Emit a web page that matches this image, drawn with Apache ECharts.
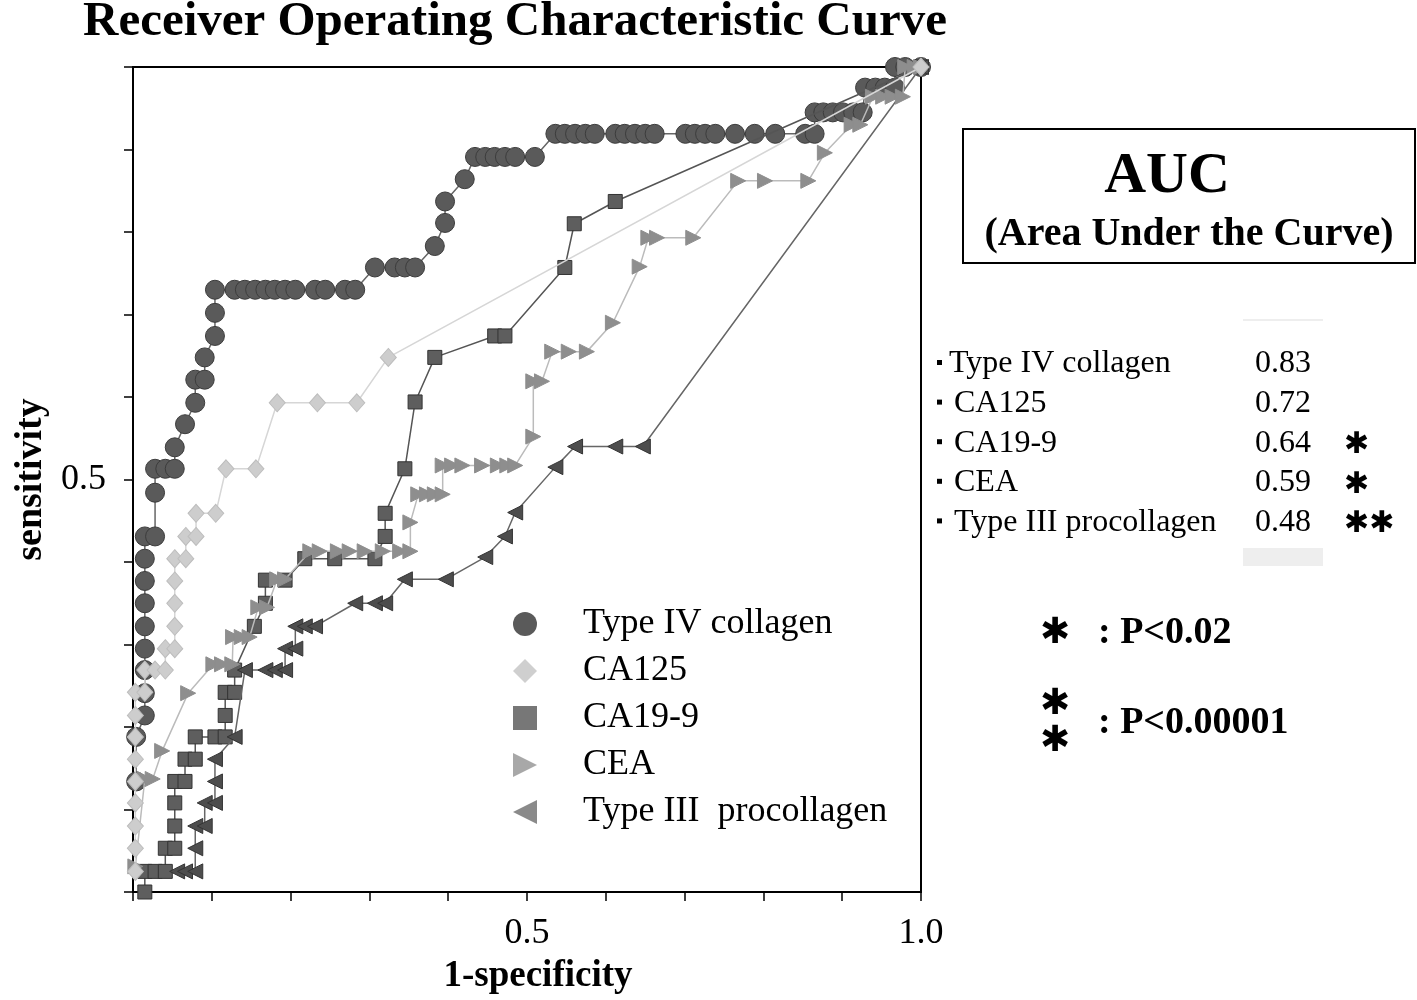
<!DOCTYPE html>
<html>
<head>
<meta charset="utf-8">
<script src="https://cdn.jsdelivr.net/npm/echarts@6/dist/echarts.min.js"></script>
<style>
html,body{margin:0;padding:0;background:#fff;}
#chart{width:1417px;height:1000px;}
</style>
</head>
<body>
<div id="chart"></div>
<script>
// ---------- DATA ----------
const seriesNames = ['Type IV collagen', 'CA125', 'CA19-9', 'CEA', 'Type III  procollagen'];

const typeIV = [[0.004,0.134],[0.004,0.188],[0.015,0.214],[0.015,0.241],[0.015,0.269],[0.015,0.295],[0.015,0.322],[0.015,0.350],[0.015,0.377],[0.015,0.404],[0.015,0.431],[0.028,0.431],[0.028,0.484],[0.028,0.513],[0.041,0.513],[0.053,0.513],[0.053,0.539],[0.066,0.567],[0.079,0.593],[0.079,0.621],[0.091,0.621],[0.091,0.648],[0.104,0.674],[0.104,0.702],[0.104,0.730],[0.129,0.730],[0.142,0.730],[0.155,0.730],[0.168,0.730],[0.180,0.730],[0.193,0.730],[0.206,0.730],[0.231,0.730],[0.244,0.730],[0.269,0.730],[0.282,0.730],[0.307,0.757],[0.332,0.757],[0.345,0.757],[0.358,0.757],[0.383,0.783],[0.396,0.811],[0.396,0.837],[0.421,0.864],[0.434,0.891],[0.447,0.891],[0.459,0.891],[0.472,0.891],[0.485,0.891],[0.510,0.891],[0.536,0.919],[0.548,0.919],[0.561,0.919],[0.574,0.919],[0.586,0.919],[0.612,0.919],[0.624,0.919],[0.637,0.919],[0.650,0.919],[0.662,0.919],[0.701,0.919],[0.713,0.919],[0.726,0.919],[0.739,0.919],[0.764,0.919],[0.789,0.919],[0.815,0.919],[0.853,0.919],[0.865,0.919],[0.865,0.945],[0.876,0.945],[0.888,0.945],[0.901,0.945],[0.914,0.945],[0.926,0.945],[0.929,0.975],[0.942,0.975],[0.954,0.975],[0.967,0.975],[0.967,1.0],[0.980,1.0],[1.0,1.0]];

const ca125 = [[0.003,0.025],[0.003,0.053],[0.003,0.080],[0.003,0.108],[0.003,0.134],[0.003,0.161],[0.003,0.188],[0.003,0.214],[0.003,0.242],[0.015,0.242],[0.015,0.269],[0.028,0.269],[0.041,0.269],[0.041,0.295],[0.053,0.295],[0.053,0.322],[0.053,0.350],[0.053,0.377],[0.053,0.404],[0.067,0.404],[0.067,0.431],[0.080,0.431],[0.080,0.459],[0.105,0.459],[0.118,0.513],[0.156,0.513],[0.183,0.593],[0.234,0.593],[0.284,0.593],[0.324,0.648],[1.0,1.0]];

const ca199 = [[0.015,0.0],[0.015,0.025],[0.028,0.025],[0.041,0.025],[0.041,0.053],[0.053,0.053],[0.053,0.080],[0.053,0.108],[0.053,0.134],[0.066,0.134],[0.066,0.161],[0.079,0.161],[0.079,0.188],[0.104,0.188],[0.117,0.188],[0.117,0.214],[0.117,0.242],[0.129,0.242],[0.129,0.269],[0.154,0.322],[0.168,0.350],[0.168,0.378],[0.193,0.378],[0.218,0.404],[0.256,0.404],[0.307,0.404],[0.320,0.431],[0.320,0.459],[0.345,0.513],[0.358,0.594],[0.383,0.648],[0.459,0.674],[0.472,0.674],[0.548,0.757],[0.560,0.810],[0.612,0.837],[1.0,1.0]];

const cea = [[0.003,0.031],[0.015,0.137],[0.025,0.137],[0.037,0.171],[0.070,0.241],[0.102,0.276],[0.113,0.276],[0.126,0.276],[0.127,0.309],[0.138,0.309],[0.148,0.309],[0.159,0.345],[0.170,0.345],[0.183,0.379],[0.193,0.379],[0.225,0.413],[0.237,0.413],[0.260,0.413],[0.275,0.413],[0.294,0.413],[0.317,0.413],[0.339,0.413],[0.352,0.413],[0.352,0.448],[0.362,0.482],[0.373,0.482],[0.383,0.482],[0.393,0.482],[0.393,0.517],[0.405,0.517],[0.418,0.517],[0.443,0.517],[0.463,0.517],[0.475,0.517],[0.485,0.517],[0.508,0.552],[0.508,0.619],[0.519,0.619],[0.532,0.655],[0.553,0.655],[0.576,0.655],[0.609,0.690],[0.643,0.758],[0.654,0.793],[0.665,0.793],[0.711,0.793],[0.768,0.862],[0.802,0.862],[0.857,0.862],[0.878,0.896],[0.912,0.930],[0.923,0.930],[0.939,0.964],[0.952,0.964],[0.964,0.964],[0.977,0.964],[0.980,1.0],[0.992,1.0],[1.0,1.0]];

const typeIII = [[0.056,0.025],[0.066,0.025],[0.079,0.025],[0.079,0.053],[0.079,0.080],[0.091,0.080],[0.091,0.108],[0.104,0.108],[0.104,0.134],[0.104,0.161],[0.129,0.188],[0.142,0.269],[0.168,0.269],[0.180,0.269],[0.193,0.269],[0.193,0.295],[0.206,0.295],[0.206,0.322],[0.218,0.322],[0.231,0.322],[0.282,0.350],[0.307,0.350],[0.320,0.350],[0.345,0.379],[0.397,0.379],[0.447,0.406],[0.472,0.431],[0.485,0.460],[0.536,0.515],[0.561,0.540],[0.612,0.540],[0.647,0.540],[1.0,1.0]];

const xLabelValues = [0.5, 1.0];
const xLabelTexts = ['0.5', '1.0'];
const yLabelValues = [0.5];
const yLabelTexts = ['0.5'];

const aucNames = ['Type IV collagen', 'CA125', 'CA19-9', 'CEA', 'Type III procollagen'];
const aucValues = ['0.83', '0.72', '0.64', '0.59', '0.48'];
const aucSig = ['', '', '\u2731', '\u2731', '\u2731\u2731'];

// ---------- CHART ----------
const SERIF = '"Liberation Serif", "Times New Roman", serif';
const RIGHT_TRI = 'path://M0,0L10,5L0,10Z';
const LEFT_TRI = 'path://M10,0L0,5L10,10Z';

function labelFor(values, texts) {
  return function (v) {
    for (let i = 0; i < values.length; i++) {
      if (Math.abs(v - values[i]) < 1e-6) return texts[i];
    }
    return '';
  };
}

const chart = echarts.init(document.getElementById('chart'), null, {renderer: 'canvas'});

const graphics = [];
graphics.push({type: 'text', style: {text: 'Receiver Operating Characteristic Curve', x: 515, y: 22, align: 'center', verticalAlign: 'middle', font: 'bold 49px ' + SERIF, fill: '#000'}});
graphics.push({type: 'rect', shape: {x: 963, y: 129, width: 452, height: 134}, style: {fill: 'none', stroke: '#000', lineWidth: 2}});
graphics.push({type: 'text', style: {text: 'AUC', x: 1167, y: 177, align: 'center', verticalAlign: 'middle', font: 'bold 58px ' + SERIF, fill: '#000'}});
graphics.push({type: 'text', style: {text: '(Area Under the Curve)', x: 1189, y: 235, align: 'center', verticalAlign: 'middle', font: 'bold 40px ' + SERIF, fill: '#000'}});
graphics.push({type: 'line', shape: {x1: 1243, y1: 320, x2: 1323, y2: 320}, style: {stroke: '#eeeeee', lineWidth: 2}});
graphics.push({type: 'rect', shape: {x: 1243, y: 548, width: 80, height: 18}, style: {fill: '#eeeeee'}});
for (let i = 0; i < aucNames.length; i++) {
  const y = 364 + i * 39.6;
  graphics.push({type: 'rect', shape: {x: 937, y: y - 4, width: 5, height: 5}, style: {fill: '#000'}});
  graphics.push({type: 'text', style: {text: aucNames[i], x: i === 0 ? 949 : 954, y: y, align: 'left', verticalAlign: 'middle', font: '32px ' + SERIF, fill: '#000'}});
  graphics.push({type: 'text', style: {text: aucValues[i], x: 1255, y: y, align: 'left', verticalAlign: 'middle', font: '32px ' + SERIF, fill: '#000'}});
  if (aucSig[i]) {
    graphics.push({type: 'text', style: {text: aucSig[i], x: 1344, y: y + 2, align: 'left', verticalAlign: 'middle', font: 'bold 30px "DejaVu Sans"', fill: '#000'}});
  }
}
graphics.push({type: 'text', style: {text: '\u2731', x: 1055, y: 634, align: 'center', verticalAlign: 'middle', font: 'bold 36px "DejaVu Sans"', fill: '#000'}});
graphics.push({type: 'text', style: {text: ': P<0.02', x: 1098, y: 633, align: 'left', verticalAlign: 'middle', font: 'bold 38px ' + SERIF, fill: '#000'}});
graphics.push({type: 'text', style: {text: '\u2731', x: 1055, y: 705, align: 'center', verticalAlign: 'middle', font: 'bold 36px "DejaVu Sans"', fill: '#000'}});
graphics.push({type: 'text', style: {text: '\u2731', x: 1055, y: 742, align: 'center', verticalAlign: 'middle', font: 'bold 36px "DejaVu Sans"', fill: '#000'}});
graphics.push({type: 'text', style: {text: ': P<0.00001', x: 1098, y: 723, align: 'left', verticalAlign: 'middle', font: 'bold 38px ' + SERIF, fill: '#000'}});

const styles = [
  {data: typeIV, symbol: 'circle', size: 19, fill: '#5a5a5a', border: '#3c3c3c', line: '#666666', z: 2},
  {data: ca125, symbol: 'diamond', size: [16, 18], fill: '#cdcdcd', border: '#bdbdbd', line: '#d6d6d6', z: 6},
  {data: ca199, symbol: 'rect', size: 14, fill: '#5e5e5e', border: '#333333', line: '#555555', z: 3},
  {data: cea, symbol: RIGHT_TRI, size: 15, fill: '#8e8e8e', border: '#8e8e8e', line: '#bbbbbb', z: 5},
  {data: typeIII, symbol: LEFT_TRI, size: 15, fill: '#4d4d4d', border: '#333333', line: '#666666', z: 4}
];

const legendIcons = ['circle', 'diamond', 'rect', RIGHT_TRI, LEFT_TRI];
const legendColors = ['#5a5a5a', '#cfcfcf', '#777777', '#a8a8a8', '#8a8a8a'];

const series = styles.map((s, i) => ({
  name: seriesNames[i],
  type: 'line',
  data: s.data,
  z: s.z,
  symbol: s.symbol,
  symbolSize: s.size,
  showAllSymbol: true,
  animation: false,
  itemStyle: {color: s.fill, borderColor: s.border, borderWidth: 1, opacity: 1},
  lineStyle: {color: s.line, width: 1.5},
  emphasis: {disabled: true}
}));

chart.setOption({
  backgroundColor: '#fff',
  animation: false,
  grid: {left: 133, top: 67, right: 496, bottom: 107, show: true, borderColor: '#000', borderWidth: 2, backgroundColor: 'transparent'},
  graphic: graphics,
  legend: {
    orient: 'vertical',
    left: 508,
    top: 601,
    itemWidth: 24,
    itemHeight: 24,
    itemGap: 11,
    selectedMode: false,
    data: seriesNames.map((n, i) => ({name: n, icon: legendIcons[i], itemStyle: {color: legendColors[i], borderWidth: 0}})),
    textStyle: {fontFamily: SERIF, fontSize: 36, color: '#000', lineHeight: 31, padding: [0, 0, 0, 41]}
  },
  xAxis: {
    type: 'value', min: 0, max: 1, interval: 0.1,
    name: '1-specificity', nameLocation: 'middle', nameGap: 66,
    nameTextStyle: {fontFamily: SERIF, fontWeight: 'bold', fontSize: 37, color: '#000', padding: [0, 0, 0, 22]},
    axisLine: {show: true, lineStyle: {color: '#000', width: 2}},
    axisTick: {show: true, length: 9, lineStyle: {color: '#000', width: 1.5}},
    axisLabel: {formatter: labelFor(xLabelValues, xLabelTexts), fontFamily: SERIF, fontSize: 36, color: '#000', margin: 24},
    splitLine: {show: false}
  },
  yAxis: {
    type: 'value', min: 0, max: 1, interval: 0.1,
    name: 'sensitivity', nameLocation: 'middle', nameGap: 82,
    nameTextStyle: {fontFamily: SERIF, fontWeight: 'bold', fontSize: 38, color: '#000'},
    axisLine: {show: true, lineStyle: {color: '#000', width: 2}},
    axisTick: {show: true, length: 9, lineStyle: {color: '#000', width: 1.5}},
    axisLabel: {formatter: labelFor(yLabelValues, yLabelTexts), fontFamily: SERIF, fontSize: 36, color: '#000', margin: 27},
    splitLine: {show: false}
  },
  series: series
});
</script>
</body>
</html>
